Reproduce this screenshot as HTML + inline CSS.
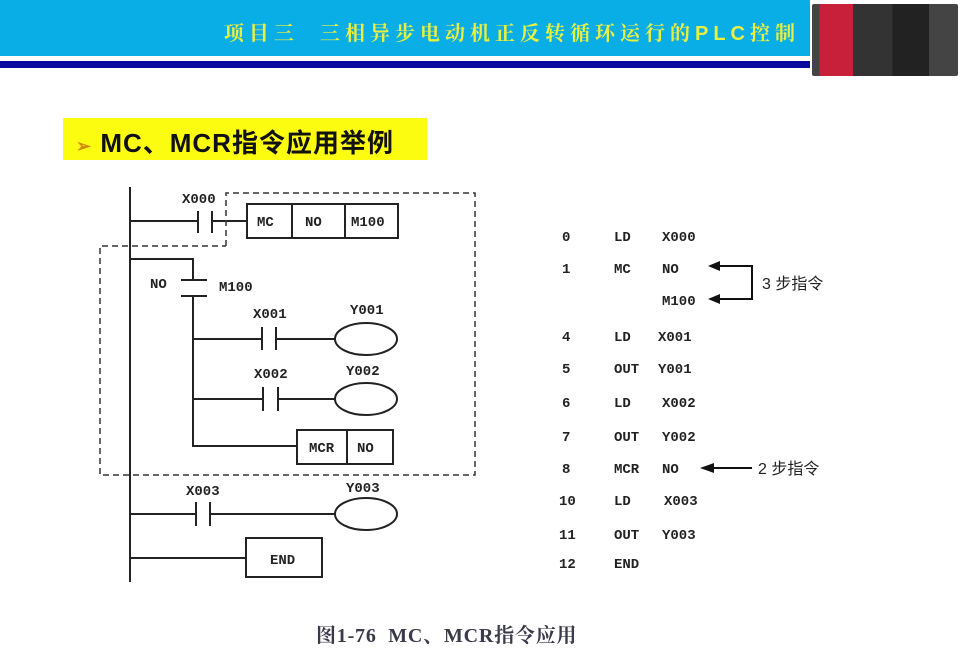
<!DOCTYPE html>
<html><head><meta charset="utf-8"><style>
body{margin:0;width:960px;height:651px;background:#fff;position:relative;overflow:hidden;font-family:"Liberation Sans","Noto Sans CJK SC",sans-serif}
.a{position:absolute}
</style></head><body>
<div class="a" style="left:0;top:0;width:810px;height:56px;background:#0aaee6"></div>
<div class="a" style="left:0;top:61px;width:810px;height:7px;background:#0a0a9c"></div>
<div class="a" style="left:100px;top:17px;width:700px;text-align:right;color:#e8f040;font-weight:bold;font-size:20px;letter-spacing:5px;white-space:nowrap;font-family:'Liberation Sans','Noto Serif CJK SC',serif">项目三&nbsp;&nbsp;三相异步电动机正反转循环运行的PLC控制</div>
<div class="a" style="left:812px;top:4px;width:146px;height:72px;background:linear-gradient(90deg,#444 0 5%,#c8203a 5% 28%,#333 28% 55%,#222 55% 80%,#444 80%);border-radius:2px"></div>
<div class="a" style="left:63px;top:118px;width:364px;height:42px;background:#fcfc10"></div>
<div class="a" style="left:76px;top:123px;font-size:26px;font-weight:bold;color:#111;white-space:nowrap;letter-spacing:1px"><span style="color:#d08a10;font-size:18px">➢</span> MC、MCR指令应用举例</div>
<svg class="a" style="left:0;top:0" width="960" height="651" font-family="Liberation Mono,monospace" font-size="14">
<g stroke="#222" stroke-width="2" fill="none">
<line x1="130" y1="187" x2="130" y2="582"/>
<line x1="130" y1="221" x2="198" y2="221"/><line x1="198" y1="211" x2="198" y2="233"/><line x1="212" y1="211" x2="212" y2="233"/><line x1="212" y1="221" x2="247" y2="221"/>
<rect x="247" y="204" width="151" height="34"/><line x1="292" y1="204" x2="292" y2="238"/><line x1="345" y1="204" x2="345" y2="238"/>
<polyline points="130,259 193,259 193,280"/><line x1="181" y1="280" x2="207" y2="280"/><line x1="181" y1="296" x2="207" y2="296"/>
<polyline points="193,296 193,446 297,446"/>
<line x1="193" y1="339" x2="262" y2="339"/><line x1="262" y1="327" x2="262" y2="350"/><line x1="276" y1="327" x2="276" y2="350"/><line x1="276" y1="339" x2="335" y2="339"/>
<ellipse cx="366" cy="339" rx="31" ry="16"/>
<line x1="193" y1="399" x2="263" y2="399"/><line x1="263" y1="387" x2="263" y2="411"/><line x1="278" y1="387" x2="278" y2="411"/><line x1="278" y1="399" x2="335" y2="399"/>
<ellipse cx="366" cy="399" rx="31" ry="16"/>
<rect x="297" y="430" width="96" height="34"/><line x1="347" y1="430" x2="347" y2="464"/>
<line x1="130" y1="514" x2="196" y2="514"/><line x1="196" y1="502" x2="196" y2="526"/><line x1="210" y1="502" x2="210" y2="526"/><line x1="210" y1="514" x2="335" y2="514"/>
<ellipse cx="366" cy="514" rx="31" ry="16"/>
<line x1="130" y1="558" x2="246" y2="558"/><rect x="246" y="538" width="76" height="39"/>
</g>
<polyline points="226,246 226,193 475,193 475,475 100,475 100,246 226,246" fill="none" stroke="#333" stroke-width="1.5" stroke-dasharray="6,4"/>
<g fill="#222" font-weight="bold">
<text x="182" y="203">X000</text><text x="257" y="226">MC</text><text x="305" y="226">NO</text><text x="351" y="226">M100</text>
<text x="150" y="288">NO</text><text x="219" y="291">M100</text>
<text x="253" y="318">X001</text><text x="350" y="314">Y001</text>
<text x="254" y="378">X002</text><text x="346" y="375">Y002</text>
<text x="309" y="452">MCR</text><text x="357" y="452">NO</text>
<text x="186" y="495">X003</text><text x="346" y="492">Y003</text>
<text x="270" y="564">END</text>
<text x="562" y="241">0</text><text x="614" y="241">LD</text><text x="662" y="241">X000</text>
<text x="562" y="273">1</text><text x="614" y="273">MC</text><text x="662" y="273">NO</text>
<text x="662" y="305">M100</text>
<text x="562" y="341">4</text><text x="614" y="341">LD</text><text x="658" y="341">X001</text>
<text x="562" y="373">5</text><text x="614" y="373">OUT</text><text x="658" y="373">Y001</text>
<text x="562" y="407">6</text><text x="614" y="407">LD</text><text x="662" y="407">X002</text>
<text x="562" y="441">7</text><text x="614" y="441">OUT</text><text x="662" y="441">Y002</text>
<text x="562" y="473">8</text><text x="614" y="473">MCR</text><text x="662" y="473">NO</text>
<text x="559" y="505">10</text><text x="614" y="505">LD</text><text x="664" y="505">X003</text>
<text x="559" y="539">11</text><text x="614" y="539">OUT</text><text x="662" y="539">Y003</text>
<text x="559" y="568">12</text><text x="614" y="568">END</text>
</g>
<g stroke="#111" stroke-width="2" fill="none"><polyline points="718,266 752,266 752,299 718,299"/><line x1="712" y1="468" x2="752" y2="468"/></g>
<g fill="#111"><polygon points="708,266 720,261 720,271"/><polygon points="708,299 720,294 720,304"/><polygon points="700,468 714,463 714,473"/></g>
<g font-family="Liberation Sans,Noto Sans CJK SC,sans-serif" font-size="16" fill="#222"><text x="762" y="289">3 步指令</text><text x="758" y="474">2 步指令</text></g>
<text x="316" y="642" font-family="Liberation Serif,Noto Serif CJK SC,serif" font-size="20" font-weight="bold" fill="#3a3a4a" letter-spacing="0.8">图1-76&#160;&#160;MC、MCR指令应用</text>
</svg>
</body></html>
